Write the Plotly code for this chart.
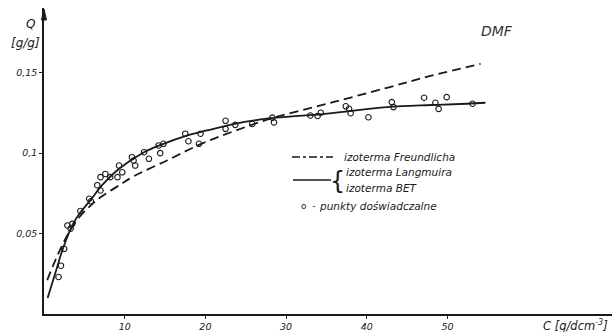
import plotly.graph_objects as go

# ---------------- data ----------------
langmuir_c = [0.45, 1.0, 1.5, 2.1, 2.9, 3.6, 4.5, 5.8, 7.2, 9.5, 12.4, 14.8, 17.5, 20.2,
              23.5, 28.1, 35.1, 42.5, 48.0, 52.4, 54.7]
langmuir_q = [0.010, 0.019, 0.027, 0.037, 0.048, 0.056, 0.063, 0.071, 0.080, 0.091, 0.1005,
              0.1057, 0.1105, 0.114, 0.118, 0.1216, 0.1245, 0.1285, 0.1298, 0.1306, 0.1312]

freundlich_c = [0.4, 1.2, 2.0, 2.9, 4.1, 5.8, 7.0, 9.5, 11.1, 15.3, 19.4, 23.5, 28.5,
                35.1, 42.5, 48.0, 54.1]
freundlich_q = [0.021, 0.031, 0.040, 0.049, 0.0585, 0.0675, 0.0725, 0.0805, 0.0855, 0.0955,
                0.1055, 0.1135, 0.122, 0.1306, 0.1405, 0.148, 0.1554]

points_c = [1.8, 2.1, 2.5, 2.9, 3.3, 3.5, 4.5, 5.6, 5.8, 6.6, 7.0, 7.0, 7.6, 8.2, 9.1, 9.3,
            9.7, 10.9, 11.1, 11.3, 12.4, 13.0, 14.2, 14.4, 14.8, 17.5, 17.9, 19.4, 19.2,
            22.5, 22.5, 23.7, 25.8, 28.3, 28.5, 33.0, 33.9, 34.3, 37.4, 37.8, 38.0, 40.2,
            43.1, 43.3, 47.1, 48.5, 48.9, 49.9, 53.1]
points_q = [0.023, 0.030, 0.0405, 0.055, 0.053, 0.056, 0.064, 0.0716, 0.070, 0.080, 0.0767,
            0.085, 0.087, 0.085, 0.085, 0.0922, 0.088, 0.0974, 0.0953, 0.0922, 0.1005,
            0.0964, 0.1047, 0.0999, 0.1057, 0.112, 0.1073, 0.112, 0.1057, 0.120, 0.115,
            0.1175, 0.118, 0.122, 0.119, 0.1233, 0.123, 0.125, 0.129, 0.1275, 0.1247,
            0.1222, 0.1316, 0.1285, 0.1343, 0.1312, 0.1274, 0.1347, 0.1306]

x_ticks = [10, 20, 30, 40, 50]
x_ticktext = ["10", "20", "30", "40", "50"]
y_ticks = [0.05, 0.10, 0.15]
y_ticktext = ["0,05", "0,1", "0,15"]

# ---------------- layout geometry ----------------
W, H = 612, 332
L, R, T, B = 44, 0, 8, 18
PW, PH = W - L - R, H - T - B
X_PER_UNIT = 8.07
Y_PER_UNIT = 1610.0
INK = "#1a1a1a"
FONT = "DejaVu Sans"


def pxx(x):
    return (x - L) / PW


def pxy(y):
    return (H - B - y) / PH


fig = go.Figure()

fig.add_trace(go.Scatter(x=freundlich_c, y=freundlich_q, mode="lines",
                         line=dict(color=INK, width=1.8, dash="9px,5px", shape="spline"),
                         showlegend=False, hoverinfo="skip"))
fig.add_trace(go.Scatter(x=langmuir_c, y=langmuir_q, mode="lines",
                         line=dict(color=INK, width=1.8, shape="spline"),
                         showlegend=False, hoverinfo="skip"))
fig.add_trace(go.Scatter(x=points_c, y=points_q, mode="markers",
                         marker=dict(symbol="circle-open", size=5.5, color=INK,
                                     line=dict(width=1.1, color=INK)),
                         showlegend=False, hoverinfo="skip"))

tfont = dict(family=FONT, size=9.5, color=INK, style="italic")

fig.update_layout(
    width=W, height=H,
    margin=dict(l=L, r=R, t=T, b=B, pad=0),
    paper_bgcolor="white", plot_bgcolor="white",
    showlegend=False,
    xaxis=dict(range=[0, PW / X_PER_UNIT], showgrid=False, zeroline=False,
               showline=True, linecolor=INK, linewidth=1.6,
               tickvals=x_ticks, ticktext=x_ticktext, ticks="outside", ticklen=3,
               tickcolor=INK, tickfont=tfont),
    yaxis=dict(range=[0, PH / Y_PER_UNIT], showgrid=False, zeroline=False,
               showline=True, linecolor=INK, linewidth=1.6,
               tickvals=y_ticks, ticktext=y_ticktext, ticks="outside", ticklen=3,
               tickcolor=INK, tickfont=tfont),
)

# arrow head on the y axis (small filled triangle at the top of the axis line)
fig.add_shape(type="path", xref="paper", yref="paper",
              path="M {:.4f},{:.4f} L {:.4f},{:.4f} L {:.4f},{:.4f} Z".format(
                  pxx(41.5), pxy(20), pxx(44), pxy(9), pxx(46.5), pxy(20)),
              fillcolor=INK, line=dict(color=INK, width=1))

lab = dict(family=FONT, size=12, color=INK, style="italic")
# axis titles
fig.add_annotation(x=pxx(30), y=pxy(24), xref="paper", yref="paper", text="Q",
                   showarrow=False, font=lab, xanchor="center", yanchor="middle")
fig.add_annotation(x=pxx(25), y=pxy(43), xref="paper", yref="paper", text="[g/g]",
                   showarrow=False, font=lab, xanchor="center", yanchor="middle")
fig.add_annotation(x=pxx(610), y=pxy(325), xref="paper", yref="paper",
                   text="C [g/dcm<sup>-3</sup>]",
                   showarrow=False, font=dict(family=FONT, size=11.5, color=INK, style="italic"),
                   xanchor="right", yanchor="middle")
fig.add_annotation(x=pxx(497), y=pxy(31), xref="paper", yref="paper", text="DMF",
                   showarrow=False, font=dict(family=FONT, size=14, color="#333", style="italic"),
                   xanchor="center", yanchor="middle")

# custom legend
leg = dict(family=FONT, size=10.5, color=INK, style="italic")
fig.add_shape(type="line", xref="paper", yref="paper", x0=pxx(292), x1=pxx(333),
              y0=pxy(157), y1=pxy(157), line=dict(color=INK, width=1.6, dash="8px,3px,3px,3px"))
fig.add_annotation(x=pxx(343), y=pxy(157), xref="paper", yref="paper",
                   text="izoterma Freundlicha", showarrow=False, font=leg, borderpad=0,
                   xanchor="left", yanchor="middle")
fig.add_shape(type="line", xref="paper", yref="paper", x0=pxx(293), x1=pxx(331),
              y0=pxy(180), y1=pxy(180), line=dict(color=INK, width=1.6))
fig.add_annotation(x=pxx(337), y=pxy(181), xref="paper", yref="paper", text="{",
                   showarrow=False, font=dict(family=FONT, size=24, color=INK), borderpad=0,
                   xanchor="center", yanchor="middle")
fig.add_annotation(x=pxx(345), y=pxy(172), xref="paper", yref="paper",
                   text="izoterma Langmuira", showarrow=False, font=leg, borderpad=0,
                   xanchor="left", yanchor="middle")
fig.add_annotation(x=pxx(345), y=pxy(188), xref="paper", yref="paper",
                   text="izoterma BET", showarrow=False, font=leg, borderpad=0,
                   xanchor="left", yanchor="middle")
fig.add_annotation(x=pxx(300), y=pxy(206), xref="paper", yref="paper",
                   text="o  -", showarrow=False, font=dict(family=FONT, size=9, color=INK),
                   borderpad=0, xanchor="left", yanchor="middle")
fig.add_annotation(x=pxx(318), y=pxy(206), xref="paper", yref="paper",
                   text="punkty doświadczalne", showarrow=False, font=leg, borderpad=0,
                   xanchor="left", yanchor="middle")

fig.write_html("out.html", config={"displayModeBar": False},
               post_script="document.body.style.margin='0px';document.body.style.overflow='hidden';")
